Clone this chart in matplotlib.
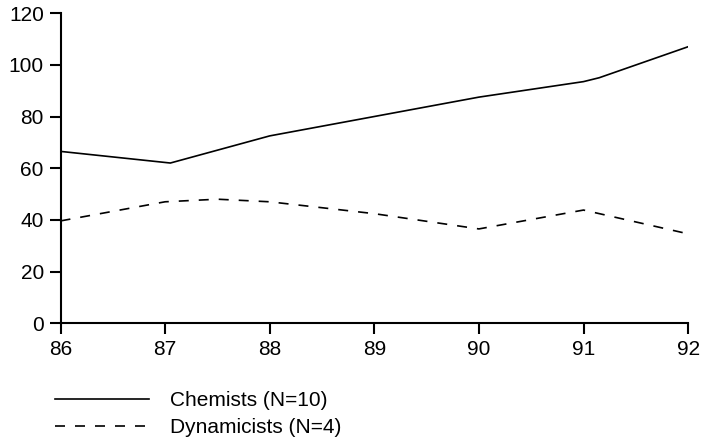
import matplotlib
matplotlib.use('Agg')
import matplotlib.pyplot as plt

plt.rcParams['font.family'] = ['Liberation Sans', 'DejaVu Sans']

# years (x) and values
chem_years = [86, 87.05, 88, 89, 90, 91, 91.15, 92]
chem_vals = [66.5, 62, 72.5, 80, 87.5, 93.5, 95, 107]

dyn_years = [86, 87, 87.5, 88, 89, 90, 91, 92]
dyn_vals = [39.6, 47, 48, 47, 42.4, 36.5, 43.8, 34.6]

x_ticks = [86, 87, 88, 89, 90, 91, 92]
y_ticks = [0, 20, 40, 60, 80, 100, 120]

fig = plt.figure(figsize=(7.02, 4.38), dpi=100)
ax = fig.add_axes([0.0862, 0.262, 0.894, 0.708])

ax.plot(chem_years, chem_vals, color='black', lw=1.2, label='Chemists (N=10)')
ax.plot(dyn_years, dyn_vals, color='black', lw=1.2, linestyle=(0, (6, 6)),
        label='Dynamicists (N=4)')

ax.set_xlim(86, 92)
ax.set_ylim(0, 120)
ax.set_xticks(x_ticks)
ax.set_yticks(y_ticks)
for s in ['top', 'right']:
    ax.spines[s].set_visible(False)
for s in ['left', 'bottom']:
    ax.spines[s].set_linewidth(1.5)
ax.tick_params(axis='both', direction='out', length=8, width=1.5,
               labelsize=15, colors='black')
ax.tick_params(axis='x', pad=4)
ax.tick_params(axis='y', pad=4)

# legend below the plot
ax.legend(loc='upper left', bbox_to_anchor=(0.078, 0.107),
          bbox_transform=fig.transFigure, frameon=False, fontsize=15,
          handlelength=4.5, handletextpad=1.05, labelspacing=0.4,
          borderaxespad=0, borderpad=0)

fig.savefig('out.png', dpi=100)
